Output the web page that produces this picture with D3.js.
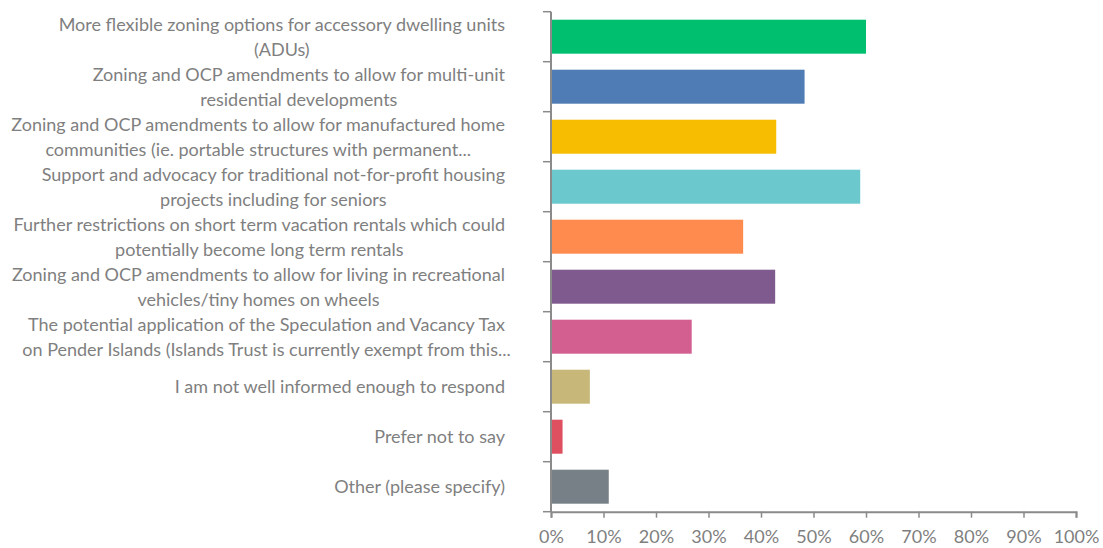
<!DOCTYPE html>
<html>
<head>
<meta charset="utf-8">
<script src="https://cdn.jsdelivr.net/npm/d3@7"></script>
<style>
  html, body { margin: 0; padding: 0; background: #fff; }
  svg text { font-family: Lato, "Open Sans", sans-serif; fill: #7f7f7f; }
</style>
</head>
<body>
<svg id="chart" width="1103" height="548"></svg>
<script>
// Survey answers (each category label split into display lines)
const categories = [
  ["More flexible zoning options for accessory dwelling units", "(ADUs)"],
  ["Zoning and OCP amendments to allow for multi-unit", "residential developments"],
  ["Zoning and OCP amendments to allow for manufactured home", "communities (ie. portable structures with permanent..."],
  ["Support and advocacy for traditional not-for-profit housing", "projects including for seniors"],
  ["Further restrictions on short term vacation rentals which could", "potentially become long term rentals"],
  ["Zoning and OCP amendments to allow for living in recreational", "vehicles/tiny homes on wheels"],
  ["The potential application of the Speculation and Vacancy Tax", "on Pender Islands (Islands Trust is currently exempt from this..."],
  ["I am not well informed enough to respond"],
  ["Prefer not to say"],
  ["Other (please specify)"]
];
const values = [60.0, 48.3, 42.9, 58.9, 36.6, 42.7, 26.8, 7.4, 2.2, 11.0];
const colors = ["#00BF6F", "#507CB6", "#F7BD00", "#6BC8CD", "#FF8B4F",
                "#7F5A8F", "#D25F90", "#C7B879", "#DE4F5F", "#768086"];
const tickValues = [0, 10, 20, 30, 40, 50, 60, 70, 80, 90, 100];
const tickLabels = tickValues.map(v => v + "%");

const svg = d3.select("#chart");
const margin = { left: 551, right: 27, top: 11.7, bottom: 36.3 };
const W = 1103, H = 548;

const x = d3.scaleLinear().domain([0, 100]).range([margin.left, W - margin.right]);
const y = d3.scaleBand().domain(d3.range(categories.length))
  .range([margin.top, H - margin.bottom]).paddingInner(0.32).paddingOuter(0.16);

// bars
svg.append("g").selectAll("rect").data(values).join("rect")
  .attr("x", x(0))
  .attr("y", (d, i) => y(i))
  .attr("width", d => x(d) - x(0))
  .attr("height", y.bandwidth())
  .attr("fill", (d, i) => colors[i]);

const axisColor = "#8a8a8a";

// category axis: line with ticks between categories
const yAxis = svg.append("g");
yAxis.append("line")
  .attr("x1", x(0)).attr("x2", x(0))
  .attr("y1", margin.top).attr("y2", H - margin.bottom)
  .attr("stroke", axisColor).attr("stroke-width", 2);
const boundaries = d3.range(categories.length + 1).map(i => margin.top + i * (H - margin.top - margin.bottom) / categories.length);
yAxis.selectAll("line.tick").data(boundaries).join("line")
  .attr("class", "tick")
  .attr("x1", x(0) - 8).attr("x2", x(0))
  .attr("y1", d => d).attr("y2", d => d)
  .attr("stroke", axisColor).attr("stroke-width", 1.5);

// category labels: lines centred on each other, block right-aligned
const labelRight = 505;
const fontSize = 18;
const lineH = 25;
const labels = svg.append("g");
categories.forEach((lines, i) => {
  const cy = y(i) + y.bandwidth() / 2;
  const g = labels.append("g");
  const widths = lines.map(ln => {
    const t = g.append("text").attr("font-size", fontSize).text(ln);
    const w = t.node().getComputedTextLength();
    t.remove();
    return w;
  });
  const cx = labelRight - widths[0] / 2;
  // a truncated line wider than the first one is allowed to run past the edge
  lines.forEach((ln, k) => {
    g.append("text")
      .attr("x", cx)
      .attr("y", cy + (k - (lines.length - 1) / 2) * lineH)
      .attr("dy", "0.35em")
      .attr("text-anchor", "middle")
      .attr("font-size", fontSize)
      .text(ln);
  });
});

// value axis
const xAxis = d3.axisBottom(x).tickValues(tickValues)
  .tickFormat((d, i) => tickLabels[i]).tickSize(6).tickPadding(13);
const gx = svg.append("g").attr("transform", `translate(0,${H - margin.bottom})`).call(xAxis);
gx.select(".domain").attr("stroke", axisColor).attr("stroke-width", 2);
gx.selectAll(".tick line").attr("stroke", axisColor).attr("stroke-width", 1.5);
gx.selectAll(".tick text").attr("font-size", fontSize).attr("fill", "#7f7f7f")
  .style("font-family", "Lato, 'Open Sans', sans-serif");
</script>
</body>
</html>
